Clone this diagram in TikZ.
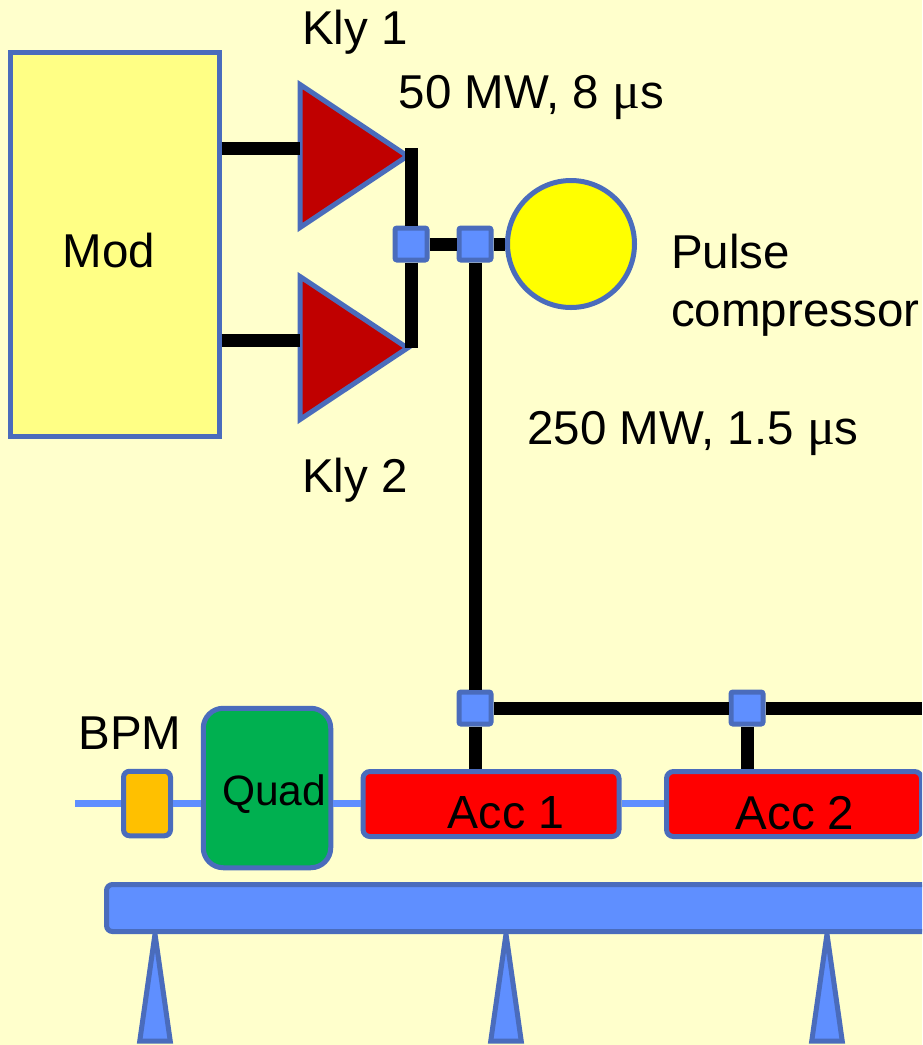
\documentclass[tikz,border=0pt]{standalone}
\usepackage{fontspec}
\setmainfont{Liberation Sans}
\newfontfamily\mufont{Liberation Serif}
\usetikzlibrary{shapes.geometric, arrows}
\definecolor{bgcol}{HTML}{FFFFCC}
\definecolor{edgecol}{HTML}{4A6CBC}
\definecolor{bluecol}{HTML}{5F8FFF}
\definecolor{modcol}{HTML}{FFFF85}
\definecolor{ampcol}{HTML}{C00000}
\definecolor{circcol}{HTML}{FFFF00}
\definecolor{bpmcol}{HTML}{FFC000}
\definecolor{quadcol}{HTML}{00B050}
\definecolor{acccol}{HTML}{FF0000}
\tikzstyle{box} = [rectangle, draw=edgecol, line width=5pt, inner sep=0pt, text=black]
\tikzstyle{amp} = [isosceles triangle, isosceles triangle stretches, draw=edgecol, fill=ampcol, line width=5pt, inner sep=0pt, minimum width=143pt, minimum height=107.5pt, anchor=lower side]
\tikzstyle{jun} = [box, fill=bluecol, rounded corners=2pt, minimum width=32pt, minimum height=32pt]
\tikzstyle{sup} = [isosceles triangle, isosceles triangle stretches, shape border rotate=90, draw=edgecol, fill=bluecol, line width=5pt, inner sep=0pt, minimum width=30.5pt, minimum height=107pt, anchor=lower side]
\tikzstyle{acc} = [box, fill=acccol, rounded corners=7pt, minimum height=65pt]
\tikzstyle{lab} = [inner sep=0pt, font=\fontsize{47.5}{58}\selectfont, text=black]
\tikzstyle{wave} = [line width=13pt, draw=black]
\tikzstyle{beam} = [line width=7pt, draw=bluecol]
\newcommand{\mic}{{\mufont\fontsize{52}{58}\selectfont\char"03BC}}

\begin{document}
\begin{tikzpicture}[x=1pt, y=-1pt, node distance=64pt]

	\useasboundingbox (0,0) rectangle (922,1045);
	\fill [bgcol] (0,0) rectangle (922,1045);
	\clip (0,0) rectangle (922,1045);

	\node (mod) [box, fill=modcol, minimum width=209pt, minimum height=384pt] at (114.5,244) {};
	\node (modt) [lab, below of=mod, node distance=7pt, xshift=-5.5pt] {Mod};

	\node (kly1) [amp] at (297.5,156) {};
	\node (kly2) [amp, at=(kly1.lower side), yshift=-192pt] {};
	\node (kly1t) [lab] at (355,32) {Kly 1};
	\node (kly2t) [lab] at (355,480) {Kly 2};
	\node (powa) [lab] at (531.5,97) {50 MW, 8 \mic s};

	\node (jun1) [jun] at (411,244) {};
	\node (jun2) [jun, right of=jun1] {};
	\node (comp) [circle, draw=edgecol, fill=circcol, line width=5pt, inner sep=0pt, minimum size=127pt, right of=jun2, node distance=96pt] {};
	\node (compt) [lab, align=left, anchor=north west] at (671,234) {Pulse\\compressor};
	\node (powb) [lab] at (693,433) {250 MW, 1.5 \mic s};

	\node (jun3) [jun, below of=jun2, node distance=464pt] {};
	\node (jun4) [jun, right of=jun3, node distance=272pt] {};

	\node (bpm) [box, fill=bpmcol, rounded corners=6pt, minimum width=47pt, minimum height=64.5pt] at (147,803.5) {};
	\node (bpmt) [lab] at (130,733) {BPM};
	\node (quad) [box, fill=quadcol, rounded corners=20pt, minimum width=127.5pt, minimum height=159.5pt] at (267,788) {};
	\node (quadt) [lab, font=\fontsize{42.5}{50}\selectfont] at (274,794) {Quad};
	\node (acc1) [acc, minimum width=256pt] at (491,804) {};
	\node (acc1t) [lab, font=\fontsize{46.5}{54}\selectfont, right of=acc1, node distance=15pt, yshift=-9pt] {Acc 1};
	\node (acc2) [acc, minimum width=255pt] at (794,804) {};
	\node (acc2t) [lab, right of=acc2, node distance=1pt, yshift=-9pt] {Acc 2};

	\node (sup1) [sup] at (155,1043.5) {};
	\node (sup2) [sup] at (506,1043.5) {};
	\node (sup3) [sup] at (827,1043.5) {};
	\node (tab) [box, fill=bluecol, rounded corners=6pt, minimum width=840pt, minimum height=47pt] at (526.5,908) {};

	\coordinate (in1) at (299.5,148);
	\coordinate (in2) at (299.5,340);
	\coordinate (top1) at (411,148);
	\coordinate (bot1) at (411,348);
	\coordinate (lineend) at (922,708);
	\coordinate (beamstart) at (75,803.5);

\draw [wave] (mod.east |- in1) -- (in1);
\draw [wave] (mod.east |- in2) -- (in2);
\draw [wave] (top1) -- (jun1);
\draw [wave] (jun1) -- (bot1);
\draw [wave] (jun1) -- (jun2);
\draw [wave] (jun2) -- (comp);
\draw [wave] (jun2) -- (jun3);
\draw [wave] (jun3) -- (acc1.north -| jun3);
\draw [wave] (jun3) -- (jun4);
\draw [wave] (jun4) -- (lineend);
\draw [wave] (jun4) -- (acc2.north -| jun4);

\draw [beam] (beamstart) -- (bpm);
\draw [beam] (bpm) -- (quad.west |- bpm);
\draw [beam] (quad.east |- bpm) -- (acc1.west |- bpm);
\draw [beam] (acc1.east |- bpm) -- (acc2.west |- bpm);

\end{tikzpicture}
\end{document}
